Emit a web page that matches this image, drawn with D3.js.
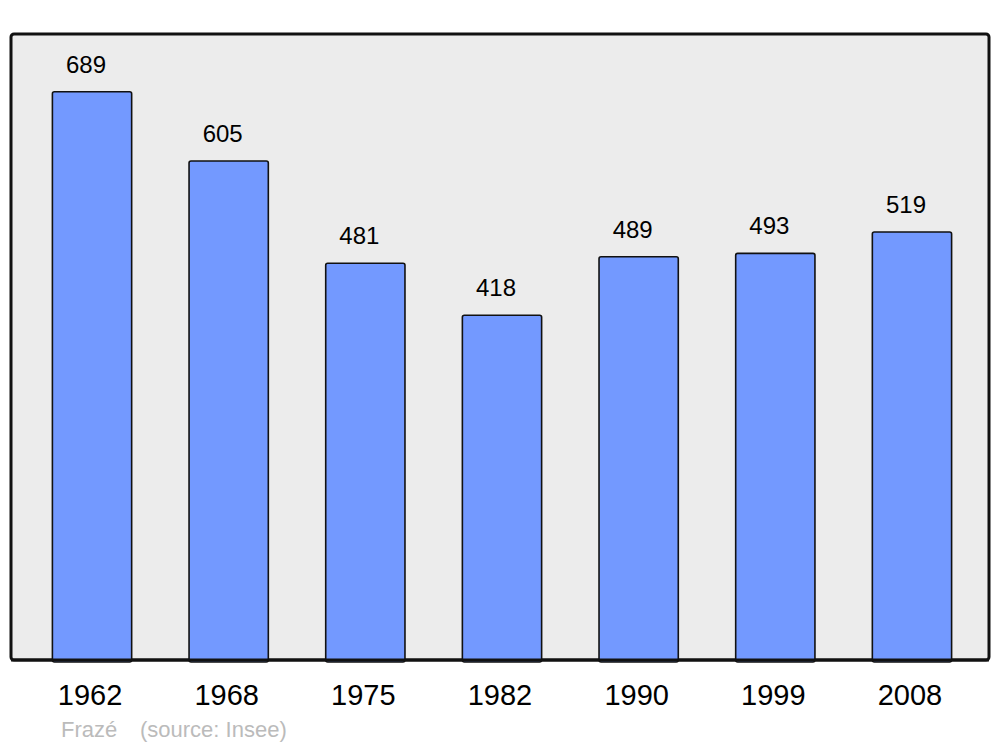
<!DOCTYPE html>
<html><head><meta charset="utf-8">
<script src="https://cdn.jsdelivr.net/npm/d3@7"></script>
<style>body{margin:0;background:#fff}svg{display:block}text{font-family:"Liberation Sans",Arial,sans-serif}</style>
</head><body>
<script>
const years = ["1962","1968","1975","1982","1990","1999","2008"];
const population = [689,605,481,418,489,493,519];
const sourceLabel = ["Frazé", "(source: Insee)"];

const W = 1000, H = 747;
const svg = d3.select("body").append("svg").attr("width", W).attr("height", H);
const panel = {x0: 11, x1: 989, y0: 34, y1: 660};

svg.append("rect").attr("x", panel.x0).attr("y", panel.y0)
  .attr("width", panel.x1 - panel.x0).attr("height", panel.y1 - panel.y0)
  .attr("rx", 3).attr("fill", "#ececec").attr("stroke", "#111").attr("stroke-width", 3);

const x = d3.scaleBand().domain(years).range([23.7, 980.3]).paddingInner(0.42).paddingOuter(0.21);
const y = d3.scaleLinear().domain([0, 759]).range([panel.y1, panel.y0]);

svg.selectAll("rect.bar").data(years).join("rect").attr("class","bar")
  .attr("x", d => x(d)).attr("width", x.bandwidth())
  .attr("y", (d,i) => y(population[i])).attr("height", (d,i) => panel.y1 - y(population[i]) + 2)
  .attr("rx", 2).attr("fill", "#7399ff").attr("stroke", "#111").attr("stroke-width", 1.6);

svg.append("line").attr("x1", panel.x0).attr("x2", panel.x1).attr("y1", panel.y1).attr("y2", panel.y1)
  .attr("stroke", "#111").attr("stroke-width", 3);

svg.selectAll("text.val").data(years).join("text").attr("class","val")
  .attr("x", d => x(d) + x.bandwidth()/2 - 6).attr("y", (d,i) => y(population[i]) - 19)
  .attr("text-anchor","middle").attr("font-size", 24).attr("fill","#000")
  .text((d,i) => population[i]);

svg.selectAll("text.year").data(years).join("text").attr("class","year")
  .attr("x", d => x(d) + x.bandwidth()/2 - 2).attr("y", 705)
  .attr("text-anchor","middle").attr("font-size", 29).attr("fill","#000")
  .text(d => d);

svg.append("text").attr("x", 61).attr("y", 737).attr("font-size", 22).attr("fill","#bbbbbb").text(sourceLabel[0]);
svg.append("text").attr("x", 140).attr("y", 737).attr("font-size", 22).attr("fill","#bbbbbb").text(sourceLabel[1]);
</script>
</body></html>
